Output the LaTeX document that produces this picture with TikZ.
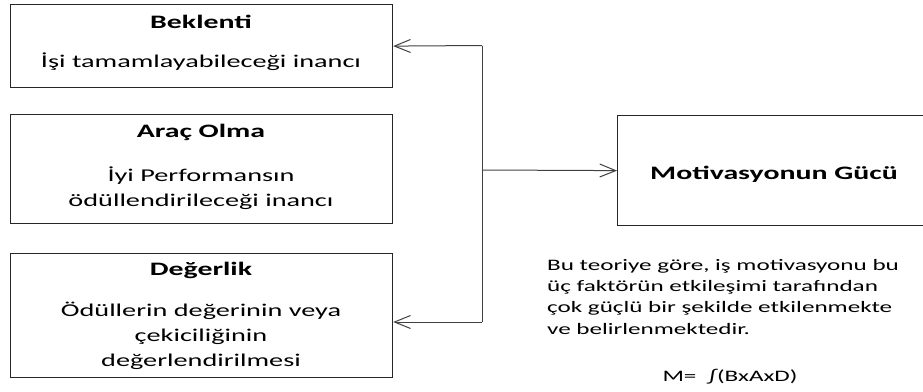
\documentclass[tikz,border=0pt]{standalone}
\usepackage{fontspec}
\setmainfont{Carlito}[FakeStretch=1.57]
\usetikzlibrary{arrows.meta}
\tikzset{
  box/.style={draw=black!85, line width=1.2pt, rectangle, inner sep=0pt, anchor=north west},
  ttl/.style={font=\fontsize{19}{24}\selectfont\bfseries, inner sep=0pt},
  bdy/.style={font=\fontsize{18}{25}\selectfont, align=center, inner sep=0pt},
  note/.style={font=\fontsize{16}{21.3}\selectfont, align=left, inner sep=0pt},
  trunk/.style={draw=black!75, line width=1pt},
  conn/.style={trunk, -{Straight Barb[length=16pt, width=13pt, line width=1pt]}}
}
\begin{document}
\begin{tikzpicture}[x=1pt, y=-1pt]
\useasboundingbox (0,0) rectangle (923,391);
\clip (0,0) rectangle (923,391);

% factor boxes on the left
\node[box, minimum width=382pt, minimum height=83pt] (b1) at (10,4) {};
\node[box, minimum width=382pt, minimum height=109pt] (b2) at (10,114) {};
\node[box, minimum width=382pt, minimum height=124pt] (b3) at (10,253) {};

\node[ttl] (t1) at (201,22) {Beklenti};
\node[bdy] (d1) at (201,62) {İşi tamamlayabileceği inancı};

\node[ttl] (t2) at (201,132) {Araç Olma};
\node[bdy] (d2) at (201,188) {İyi Performansın\\ödüllendirileceği inancı};

\node[ttl] (t3) at (201,270) {Değerlik};
\node[bdy] (d3) at (201,336) {Ödüllerin değerinin veya\\çekiciliğinin\\değerlendirilmesi};

% outcome box, running past the right edge
\node[box, minimum width=314pt, minimum height=110pt] (mot) at (617,115) {};
\node[ttl] (mt) at (774,174) {Motivasyonun Gücü};

% connectors
\coordinate (ttop) at (482,45.5);
\coordinate (tmid) at (482,170);
\coordinate (tbot) at (482,322);
\draw[trunk] (ttop) -- (tbot);
\draw[conn] (ttop) -- (b1.east);
\draw[conn] (tmid) -- (mot.west);
\draw[conn] (tbot) -- (tbot -| b3.east);

% explanation and formula
\node[note, anchor=north west] (n) at (547,259) {Bu teoriye göre, iş motivasyonu bu\\üç faktörün etkileşimi tarafından\\çok güçlü bir şekilde etkilenmekte\\ve belirlenmektedir.};
\node[note] (f) at (730,377) {M=\ \ ∫(BxAxD)};
\end{tikzpicture}
\end{document}
